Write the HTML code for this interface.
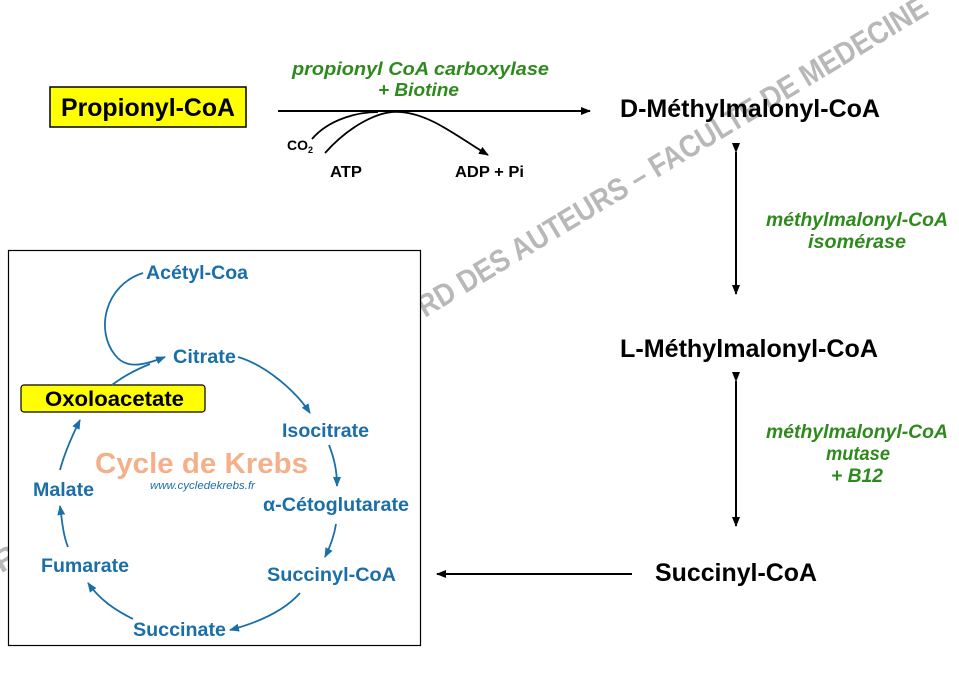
<!DOCTYPE html>
<html><head><meta charset="utf-8"><style>
body{margin:0;width:959px;height:671px;background:#fff;overflow:hidden;font-family:"Liberation Sans",sans-serif}
</style></head><body>
<svg width="959" height="671" viewBox="0 0 959 671" xmlns="http://www.w3.org/2000/svg" font-family="Liberation Sans, sans-serif">
<defs>
<marker id="ah" markerWidth="10" markerHeight="8" refX="9" refY="4" orient="auto" markerUnits="userSpaceOnUse"><path d="M0,0 L10,4 L0,8 Z" fill="#000"/></marker>
<marker id="bh" markerWidth="10" markerHeight="8" refX="9" refY="4" orient="auto" markerUnits="userSpaceOnUse"><path d="M0,0 L10,4 L0,8 Z" fill="#1b6fa8"/></marker>
</defs>
<!-- watermark -->
<g transform="translate(425,318) rotate(-31.1)" font-size="31" font-weight="bold" fill="#b8b8b8">
<text x="0" y="0" text-anchor="end" textLength="495" lengthAdjust="spacingAndGlyphs">REPRODUCTION SANS L'ACCO</text>
<text x="0" y="0" textLength="590" lengthAdjust="spacingAndGlyphs">RD DES AUTEURS – FACULTE DE MEDECINE</text>
</g>

<!-- top reaction -->
<rect x="50" y="87" width="196" height="40" fill="#ffff00" stroke="#000" stroke-width="1.5"/>
<text x="61" y="116" font-size="25" font-weight="bold" textLength="174" lengthAdjust="spacingAndGlyphs">Propionyl-CoA</text>
<line x1="278" y1="111" x2="590" y2="111" stroke="#000" stroke-width="2" marker-end="url(#ah)"/>
<text x="292" y="75" font-size="18" font-weight="bold" font-style="italic" fill="#2f8a1d" textLength="257" lengthAdjust="spacingAndGlyphs">propionyl CoA  carboxylase</text>
<text x="378" y="96" font-size="18" font-weight="bold" font-style="italic" fill="#2f8a1d" textLength="81" lengthAdjust="spacingAndGlyphs">+ Biotine</text>
<path d="M312,139 C330,118 360,112 378,112" fill="none" stroke="#000" stroke-width="1.8"/>
<path d="M325,153 C350,125 380,110 400,112 C430,114 455,135 488,155" fill="none" stroke="#000" stroke-width="1.8" marker-end="url(#ah)"/>
<text x="287" y="150" font-size="14" font-weight="bold">CO<tspan font-size="9" dy="3">2</tspan></text>
<text x="330" y="177" font-size="16" font-weight="bold" textLength="32" lengthAdjust="spacingAndGlyphs">ATP</text>
<text x="455" y="177" font-size="16" font-weight="bold" textLength="69" lengthAdjust="spacingAndGlyphs">ADP + Pi</text>
<text x="620" y="117" font-size="25" font-weight="bold" textLength="260" lengthAdjust="spacingAndGlyphs">D-Méthylmalonyl-CoA</text>

<line x1="736" y1="152" x2="736" y2="294" stroke="#000" stroke-width="2" marker-start="url(#ah)" marker-end="url(#ah)"/>
<g font-size="19" font-weight="bold" font-style="italic" fill="#2f8a1d">
<text x="766" y="226" textLength="182" lengthAdjust="spacingAndGlyphs">méthylmalonyl-CoA</text>
<text x="808" y="248" textLength="98" lengthAdjust="spacingAndGlyphs">isomérase</text>
<text x="766" y="438" textLength="182" lengthAdjust="spacingAndGlyphs">méthylmalonyl-CoA</text>
<text x="826" y="460" textLength="64" lengthAdjust="spacingAndGlyphs">mutase</text>
<text x="831" y="482" textLength="52" lengthAdjust="spacingAndGlyphs">+ B12</text>
</g>
<text x="620" y="357" font-size="25" font-weight="bold" textLength="258" lengthAdjust="spacingAndGlyphs">L-Méthylmalonyl-CoA</text>
<line x1="736" y1="381" x2="736" y2="526" stroke="#000" stroke-width="2" marker-start="url(#ah)" marker-end="url(#ah)"/>
<text x="655" y="581" font-size="25" font-weight="bold" textLength="162" lengthAdjust="spacingAndGlyphs">Succinyl-CoA</text>
<line x1="632" y1="574" x2="437" y2="574" stroke="#000" stroke-width="2" marker-end="url(#ah)"/>

<!-- Krebs box -->
<rect x="8.5" y="250.5" width="412" height="395" fill="#fff" stroke="#000" stroke-width="1.2"/>
<g font-weight="bold" fill="#1b6fa8" font-size="19">
<text x="146" y="279" textLength="102" lengthAdjust="spacingAndGlyphs">Acétyl-Coa</text>
<text x="173" y="363" textLength="63" lengthAdjust="spacingAndGlyphs">Citrate</text>
<text x="282" y="437" textLength="87" lengthAdjust="spacingAndGlyphs">Isocitrate</text>
<text x="263" y="511" textLength="146" lengthAdjust="spacingAndGlyphs">α-Cétoglutarate</text>
<text x="267" y="581" textLength="129" lengthAdjust="spacingAndGlyphs">Succinyl-CoA</text>
<text x="133" y="636" textLength="93" lengthAdjust="spacingAndGlyphs">Succinate</text>
<text x="41" y="572" textLength="88" lengthAdjust="spacingAndGlyphs">Fumarate</text>
<text x="33" y="496" textLength="61" lengthAdjust="spacingAndGlyphs">Malate</text>
</g>
<text x="95" y="473" font-size="29" font-weight="bold" fill="#f4b08a" textLength="213" lengthAdjust="spacingAndGlyphs">Cycle de Krebs</text>
<text x="150" y="489" font-size="11" font-style="italic" fill="#1b6fa8" textLength="105" lengthAdjust="spacingAndGlyphs">www.cycledekrebs.fr</text>
<rect x="21" y="385" width="184" height="27" rx="3" fill="#ffff00" stroke="#000" stroke-width="1.2"/>
<text x="45" y="406" font-size="21" font-weight="bold" textLength="139" lengthAdjust="spacingAndGlyphs">Oxoloacetate</text>
<g fill="none" stroke="#1b6fa8" stroke-width="1.8">
<path d="M143,273 C105,285 95,330 115,355 C125,368 140,367 165,357" marker-end="url(#bh)"/>
<path d="M112,385 C125,375 140,368 150,364"/>
<path d="M238,357 C265,365 295,390 310,413" marker-end="url(#bh)"/>
<path d="M329,445 C334,458 337,470 337,486" marker-end="url(#bh)"/>
<path d="M336,524 C334,537 330,547 325,557" marker-end="url(#bh)"/>
<path d="M300,593 C285,610 260,622 230,630" marker-end="url(#bh)"/>
<path d="M133,619 C115,610 100,600 88,583" marker-end="url(#bh)"/>
<path d="M68,547 C63,535 62,520 60,506" marker-end="url(#bh)"/>
<path d="M60,470 C64,455 70,440 80,420" marker-end="url(#bh)"/>
</g>
</svg>
</body></html>
